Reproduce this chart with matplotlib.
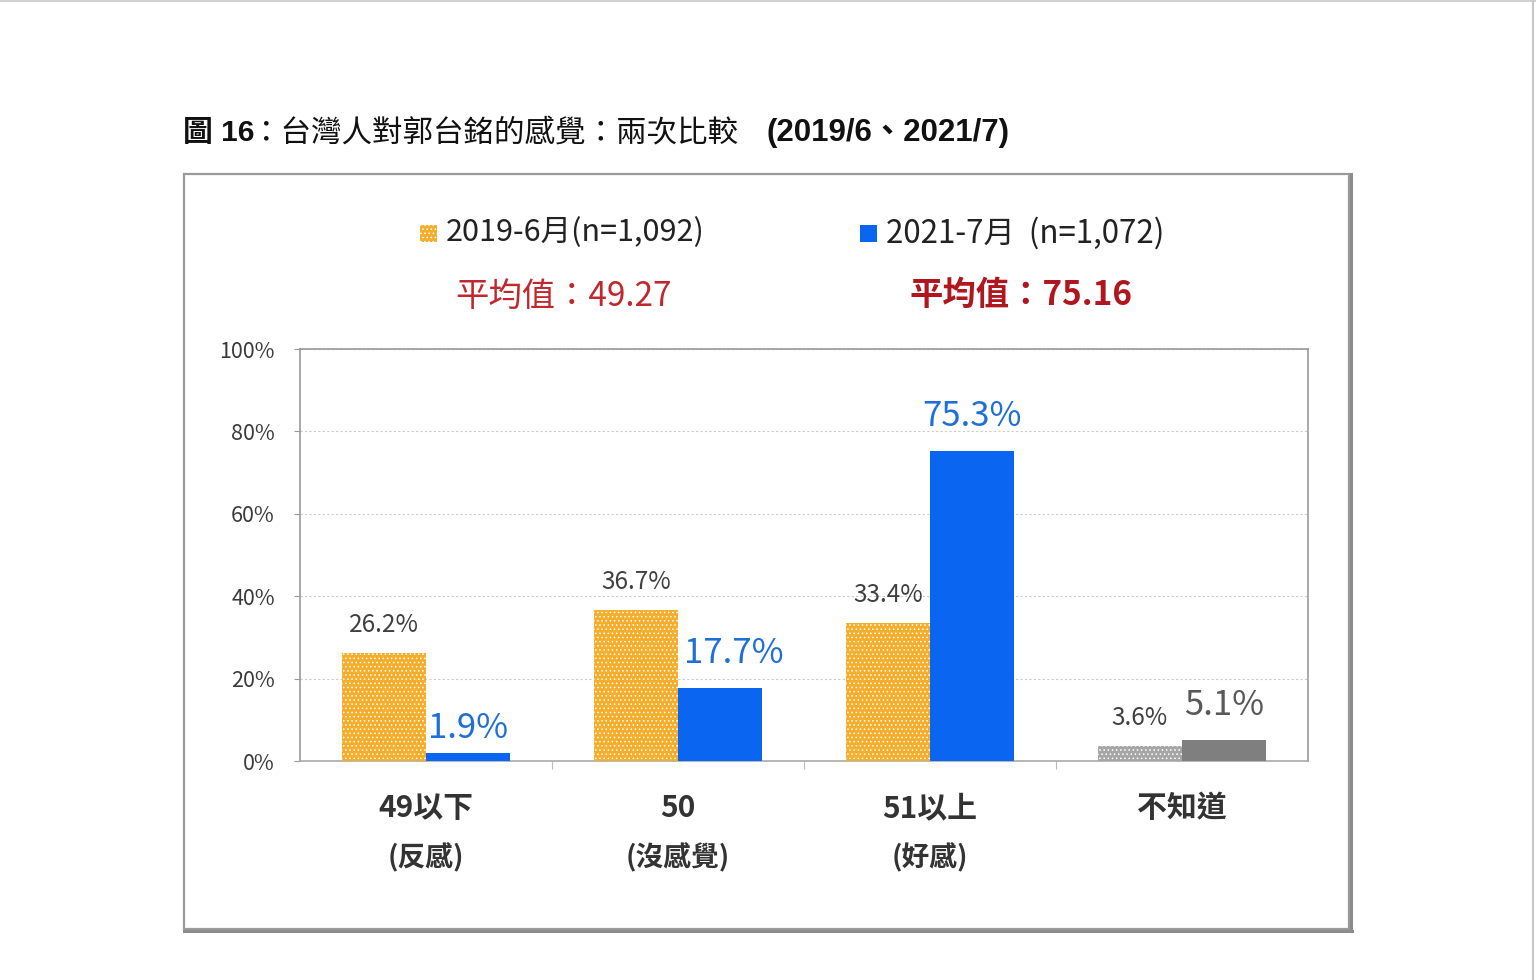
import matplotlib
matplotlib.use('Agg')
import matplotlib.pyplot as plt
from matplotlib.patches import Rectangle
from matplotlib.lines import Line2D
import numpy as np

plt.rcParams['font.family'] = ['Noto Sans CJK TC', 'DejaVu Sans']
plt.rcParams['hatch.linewidth'] = 0.6

# data
categories = ['49以下', '50', '51以上', '不知道']
sub_labels = ['(反感)', '(沒感覺)', '(好感)', '']
v2019 = [26.2, 36.7, 33.4, 3.6]
v2021 = [1.9, 17.7, 75.3, 5.1]
legend_2019 = '2019-6月(n=1,092)'
legend_2021 = '2021-7月  (n=1,072)'
mean_2019 = '平均值：49.27'
mean_2021 = '平均值：75.16'

orange = '#F4AE2B'
blue = '#0A66F0'
lightgray = '#A6A6A6'
darkgray = '#7F7F7F'

W, H = 1536, 980
fig = plt.figure(figsize=(W / 100, H / 100), dpi=100)

def fx(px):
    return px / W

def fy(py):
    return 1 - py / H

# page frame lines at top and right
fig.add_artist(Line2D([0, 1], [fy(1), fy(1)], color='#C8C8C8', lw=1.2))
fig.add_artist(Line2D([fx(1533), fx(1533)], [0, 1], color='#C8C8C8', lw=1.5))

# outer box, with a heavier edge on the right and bottom
fig.add_artist(Rectangle((fx(184), fy(929)), fx(1349) - fx(184), fy(174) - fy(929),
                         transform=fig.transFigure, fill=False, ec='#9A9A9A', lw=1.6))
fig.add_artist(Line2D([fx(1351), fx(1351)], [fy(174), fy(931)], color='#8C8C8C', lw=2.2))
fig.add_artist(Line2D([fx(184), fx(1352)], [fy(931), fy(931)], color='#8C8C8C', lw=2.2))

# title
title_font = ['Liberation Sans', 'Noto Sans CJK TC']
fig.text(fx(183), fy(133), '圖 16', fontsize=21.5, fontweight='bold', color='#111111', va='center',
         family=title_font)
fig.text(fx(250), fy(133), '：台灣人對郭台銘的感覺：兩次比較', fontsize=22, color='#111111',
         va='center', family=title_font)
fig.text(fx(767), fy(133), '(2019/6、2021/7)', fontsize=22.5, fontweight='bold', color='#111111',
         va='center', family=title_font)

# legend
fig.add_artist(Rectangle((fx(420), fy(242)), fx(17), fy(225) - fy(242), transform=fig.transFigure,
                         fc=orange, ec='white', hatch='....', lw=0))
fig.text(fx(446), fy(233), legend_2019, fontsize=22, color='#222222', va='center')
fig.add_artist(Rectangle((fx(860), fy(242)), fx(17), fy(225) - fy(242), transform=fig.transFigure,
                         fc=blue, lw=0))
fig.text(fx(886), fy(233), legend_2021, fontsize=22.5, color='#222222', va='center')

# means
fig.text(fx(564), fy(296), mean_2019, fontsize=24, color='#C0282D', va='center', ha='center')
fig.text(fx(1021), fy(295), mean_2021, fontsize=24, color='#B0161E', va='center', ha='center',
         fontweight='bold')

ax = fig.add_axes([fx(300), fy(761), fx(1308) - fx(300), fy(349) - fy(761)])
x = np.arange(len(categories))
w = 0.335

c2019 = [orange, orange, orange, lightgray]
c2021 = [blue, blue, blue, darkgray]
ax.bar(x - w / 2, v2019, w, color=c2019, edgecolor='white', hatch='....', linewidth=0, zorder=3)
ax.bar(x + w / 2, v2021, w, color=c2021, linewidth=0, zorder=3)

lab21_colors = ['#1F6FD8', '#1F6FD8', '#1F6FD8', '#595959']
lab21_pad = [5, 12, 12, 12]
lab21_dx = [0, 10, 0, 0]
for i in range(len(categories)):
    ax.annotate(f'{v2019[i]}%', (x[i] - w / 2, v2019[i]), xytext=(0, 11), textcoords='offset points',
                ha='center', va='bottom', fontsize=17.5, color='#404040')
    ax.annotate(f'{v2021[i]}%', (x[i] + w / 2, v2021[i]), xytext=(lab21_dx[i], lab21_pad[i]),
                textcoords='offset points', ha='center', va='bottom', fontsize=25,
                color=lab21_colors[i])
    ax.text(x[i], -0.114, categories[i], transform=ax.get_xaxis_transform(), ha='center',
            va='center', fontsize=21.5, fontweight='bold', color='#333333')
    if sub_labels[i]:
        ax.text(x[i], -0.235, sub_labels[i], transform=ax.get_xaxis_transform(), ha='center',
                va='center', fontsize=20, fontweight='bold', color='#333333')

ax.set_xlim(-0.5, 3.5)
ax.set_ylim(0, 100)
ax.set_yticks([0, 20, 40, 60, 80, 100])
ax.set_yticklabels([f'{t}%' for t in [0, 20, 40, 60, 80, 100]])
ax.tick_params(axis='y', labelsize=15.5, labelcolor='#3A3A3A', color='#999999', length=4, pad=14)
ax.set_xticks([0.5, 1.5, 2.5])
ax.set_xticklabels([])
ax.tick_params(axis='x', color='#BBBBBB', length=6)
ax.grid(axis='y', color='#CCCCCC', linestyle=(0, (2, 2)), linewidth=0.8, zorder=0)
for s in ax.spines.values():
    s.set_color('#999999')
    s.set_linewidth(1.2)
ax.spines['bottom'].set_color('#AAAAAA')

fig.savefig('out.png', dpi=100)
